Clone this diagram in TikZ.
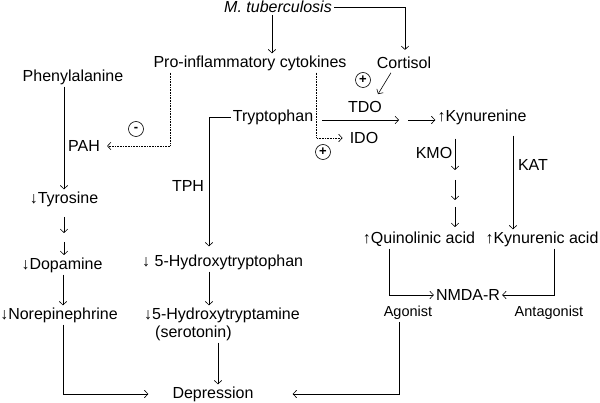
\documentclass[tikz,border=0pt]{standalone}
\usepackage{fontspec}
\setmainfont{Liberation Sans}
\usetikzlibrary{positioning,arrows.meta,calc}

\begin{document}
\begin{tikzpicture}[x=1pt,y=-1pt,
label/.style={inner sep=2pt, font=\fontsize{16}{18}\selectfont}, % every text
small/.style={inner sep=2pt, font=\fontsize{14.5}{17}\selectfont},
sign/.style={circle,draw,line width=0.6pt,inner sep=0pt,minimum size=15pt,font=\fontsize{13}{13}\selectfont\bfseries}]

\tikzset{
  >={Straight Barb[length=3.5pt,width=7.5pt]},
  flow/.style = {line width=0.6pt,->},
  inhib/.style = {line width=0.6pt,->,densely dotted}% cytokine effects
}

    \useasboundingbox (0,0) rectangle (600,403);

    \node[label] at (278,7) (mtb) {\textit{M. tuberculosis}};
    \node[label] at (250,63) (pic) {Pro-inflammatory cytokines};
    \node[label] at (404,63) (cort) {Cortisol};
    \node[label] at (73,77) (phe) {Phenylalanine};
    \node[label] at (273,117) (tryp) {Tryptophan};
    \node[label] at (365,107) (tdo) {TDO};
    \node[label] at (364,138) (ido) {IDO};
    \node[label] at (482,117) (kyn) {↑Kynurenine};
    \node[label] at (84,146) (pah) {PAH};
    \node[label] at (434,153) (kmo) {KMO};
    \node[label] at (533,165) (kat) {KAT};
    \node[label] at (188,186) (tph) {TPH};
    \node[sign] at (136,129) (minus) {-};
    \node[sign] at (363,80) (plusc) {+};
    \node[sign] at (323,152) (plusi) {+};

    \node[label] at (64,199) (tyr) {↓Tyrosine};
    \node[label] at (62,265) (dopa) {↓Dopamine};
    \node[label] at (59,315) (nor) {↓Norepinephrine};
    \node[label,anchor=west] at (140,262) (htp) {↓ 5-Hydroxytryptophan};
    \node[label,anchor=west] at (142,315) (ht) {↓5-Hydroxytryptamine};
    \node[label,anchor=west] at (153,333) (sero) {(serotonin)};
    \node[label] at (213,394) (dep) {Depression};

    \node[label] at (419,239) (quin) {↑Quinolinic acid};
    \node[label] at (542,239) (kyna) {↑Kynurenic acid};
    \node[label] at (468,295) (nmda) {NMDA-R};
    \node[small] at (408,313) (ago) {Agonist};
    \node[small] at (549,313) (ant) {Antagonist};

    % free ends of the short steps
    \coordinate (ty1) at (64,217);  \coordinate (ty2) at (64,233);
    \coordinate (ty3) at (64,242);  \coordinate (ty4) at (64,255);
    \coordinate (tdoend) at (399,120); \coordinate (kynin) at (408,120);
    \coordinate (km1) at (455,180); \coordinate (km2) at (455,200);
    \coordinate (km3) at (455,207); \coordinate (km4) at (455,227);
    \coordinate (km0) at (455,170);

    \draw[flow] ([xshift=-6pt]mtb.south) -- ([xshift=-6pt]mtb.south |- pic.north);
    \draw[flow] (mtb.east) -| ([shift={(1pt,5pt)}]cort.north);
    \draw[flow,shorten <=2pt] ([xshift=-12pt]cort.south) -- ([shift={(13pt,5pt)}]tdo.north);
    \draw[inhib] ([xshift=19pt]pic.south west) |- ([xshift=5pt]pah.east);
    \draw[inhib] ([xshift=-32pt]pic.south east) |- ([xshift=-5pt]ido.west);

    \draw[flow] (tyr.north |- phe.south) -- (tyr.north);
    \draw[flow] (ty1) -- (ty2);
    \draw[flow] (ty3) -- (ty4);
    \draw[flow] ([xshift=1pt]dopa.south) -- ([xshift=1pt]dopa.south |- nor.north);
    \draw[flow] ([xshift=4pt]nor.south) |- ([xshift=-22pt]dep.west);

    \draw[flow] (tryp.west) -| ([shift={(69pt,6pt)}]htp.north west);
    \draw[flow] ([xshift=69pt]htp.south west) -- ([xshift=67pt]ht.north west);
    \draw[flow] ([xshift=65pt]sero.south west) -- ([xshift=65pt]sero.south west |- dep.north);

    \draw[flow,shorten <=7pt] (tryp.east |- tdoend) -- (tdoend);
    \draw[flow] (kynin) -- (kyn.west |- kynin);
    \draw[flow] (kyn.south -| km0) ++(0,-12pt) -- (km0);
    \draw[flow] (km1) -- (km2);
    \draw[flow] (km3) -- (km4);
    \draw[flow] ([xshift=-29pt]kyna.north |- kyn.south) ++(0,-9pt) -- ([xshift=-29pt]kyna.north);

    \draw[flow] ([xshift=-30pt]quin.south) |- (nmda.west);
    \draw[flow] ([xshift=12pt]kyna.south) |- (nmda.east);
    \draw[flow] ([xshift=-9pt]ago.south) |- ([xshift=37pt]dep.east);

\end{tikzpicture}
\end{document}
